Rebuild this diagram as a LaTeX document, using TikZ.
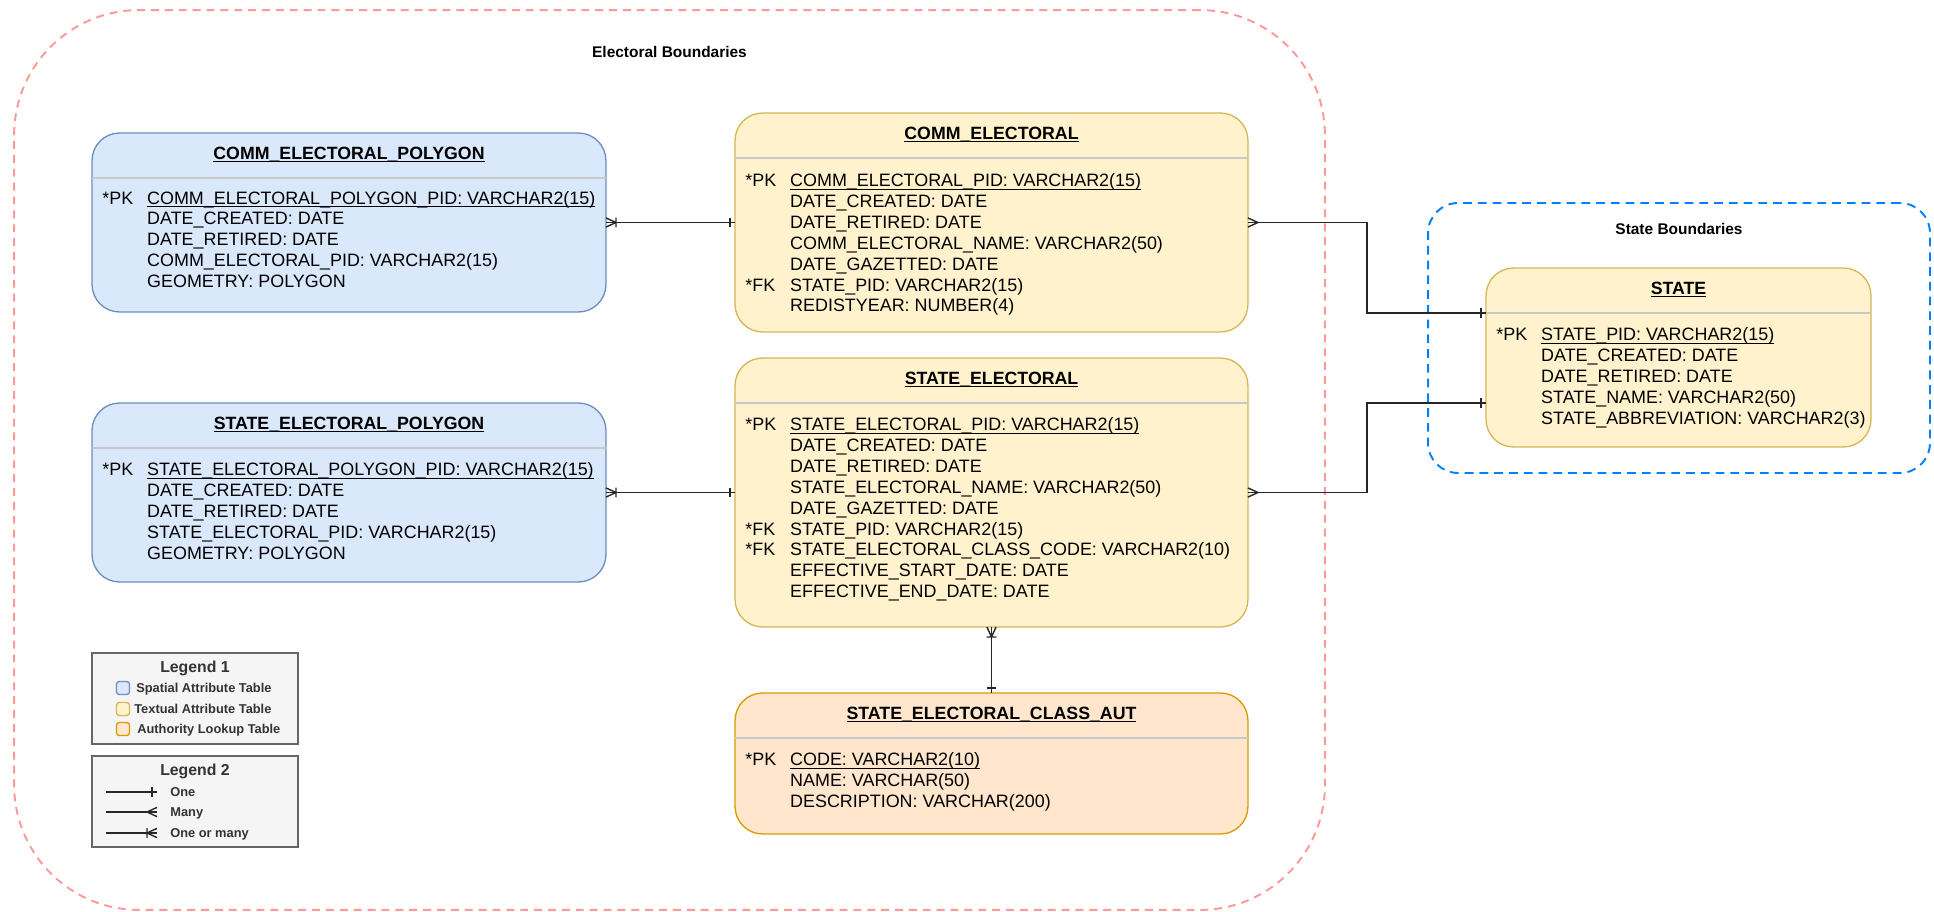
\documentclass[tikz,border=0pt]{standalone}
\usepackage{fontspec}
\setmainfont{Liberation Sans}
\usepackage{tikz}
\usetikzlibrary{arrows.meta}

\definecolor{spatialfill}{HTML}{DAE8FC}
\definecolor{spatialline}{HTML}{6C8EBF}
\definecolor{textualfill}{HTML}{FFF2CC}
\definecolor{textualline}{HTML}{D6B656}
\definecolor{lookupfill}{HTML}{FFE6CC}
\definecolor{lookupline}{HTML}{D79B00}
\definecolor{legendfill}{HTML}{F5F5F5}
\definecolor{legendline}{HTML}{666666}
\definecolor{redline}{HTML}{FF9999}
\definecolor{blueline}{HTML}{007FFF}
\definecolor{dividergray}{HTML}{C8C8C8}

% ER end marks
\pgfdeclarearrow{
  name = oneBar,
  setup code = {
    \pgfarrowssettipend{0pt}
    \pgfarrowssetlineend{0pt}
    \pgfarrowssetbackend{-3.5pt}
    \pgfarrowshullpoint{0pt}{3pt}
    \pgfarrowshullpoint{-3.5pt}{-3pt}
  },
  drawing code = {
    \pgfpathmoveto{\pgfqpoint{-2.8pt}{-2.8pt}}
    \pgfpathlineto{\pgfqpoint{-2.8pt}{2.8pt}}
    \pgfusepathqstroke
  }
}
\pgfdeclarearrow{
  name = crowFoot,
  setup code = {
    \pgfarrowssettipend{0pt}
    \pgfarrowssetlineend{0pt}
    \pgfarrowssetbackend{-5.7pt}
    \pgfarrowshullpoint{0pt}{2.6pt}
    \pgfarrowshullpoint{-5.7pt}{-2.6pt}
  },
  drawing code = {
    \pgfpathmoveto{\pgfqpoint{0pt}{2.6pt}}
    \pgfpathlineto{\pgfqpoint{-5.7pt}{0pt}}
    \pgfpathlineto{\pgfqpoint{0pt}{-2.6pt}}
    \pgfusepathqstroke
  }
}
\pgfdeclarearrow{
  name = crowBar,
  setup code = {
    \pgfarrowssettipend{0pt}
    \pgfarrowssetlineend{0pt}
    \pgfarrowssetbackend{-6pt}
    \pgfarrowshullpoint{0pt}{2.8pt}
    \pgfarrowshullpoint{-6pt}{-2.8pt}
  },
  drawing code = {
    \pgfpathmoveto{\pgfqpoint{0pt}{2.6pt}}
    \pgfpathlineto{\pgfqpoint{-5.7pt}{0pt}}
    \pgfpathlineto{\pgfqpoint{0pt}{-2.6pt}}
    \pgfpathmoveto{\pgfqpoint{-5.7pt}{-2.8pt}}
    \pgfpathlineto{\pgfqpoint{-5.7pt}{2.8pt}}
    \pgfusepathqstroke
  }
}

\tikzstyle{tbl} = [rectangle, rounded corners=0.55cm, line width=0.75pt, inner sep=0pt, outer sep=0pt]
\tikzstyle{spatial} = [tbl, fill=spatialfill, draw=spatialline]
\tikzstyle{textual} = [tbl, fill=textualfill, draw=textualline]
\tikzstyle{lookup} = [tbl, fill=lookupfill, draw=lookupline]
\tikzstyle{tbltitle} = [inner sep=0pt, text height=7.2pt, text depth=0pt, font=\fontsize{10.1}{12}\selectfont\bfseries]
\tikzstyle{fields} = [anchor=base west, inner sep=0pt, font=\fontsize{10.2}{11.9}\selectfont]
\tikzstyle{divider} = [line width=0.75pt, draw=dividergray]
\tikzstyle{rel} = [line width=0.8pt, draw=black!85]
\tikzstyle{boundary} = [rectangle, line width=1.1pt, dash pattern=on 4.5pt off 3.4pt, outer sep=0pt]
\tikzstyle{boundlabel} = [inner sep=0pt, text height=6.3pt, text depth=0pt, font=\fontsize{8.8}{10.5}\selectfont\bfseries]
\tikzstyle{legendbox} = [rectangle, fill=legendfill, draw=legendline, line width=0.75pt, minimum width=4.12cm, minimum height=1.82cm]
\tikzstyle{legendtitle} = [inner sep=0pt, text height=6.4pt, text depth=0pt, font=\fontsize{9}{11}\selectfont\bfseries, text=black!80]
\tikzstyle{legendtext} = [anchor=west, inner sep=0pt, text height=5.2pt, text depth=0pt, font=\fontsize{7.3}{9}\selectfont\bfseries, text=black!80]
\tikzstyle{keysq} = [rectangle, rounded corners=1.5pt, line width=0.75pt, minimum size=0.26cm, inner sep=0pt]

\begin{document}
\begin{tikzpicture}[x=0.02cm, y=-0.02cm]
\useasboundingbox (0,0) rectangle (1934,912);

% boundaries
\node (elect) [boundary, draw=redline, minimum width=26.22cm, minimum height=18cm, rounded corners=2.5cm] at (669.5,460) {};
\node (electlbl) [boundlabel] at (669.5,52) {Electoral Boundaries};
\node (statebnd) [boundary, draw=blueline, dash pattern=on 5pt off 3.4pt, minimum width=10.04cm, minimum height=5.4cm, rounded corners=0.6cm] at (1679,338) {};
\node (statelbl) [boundlabel] at (1679,229) {State Boundaries};

% COMM_ELECTORAL_POLYGON
\node (cep) [spatial, minimum width=10.28cm, minimum height=3.58cm] at (349,222.5) {};
\node (cep-t) [tbltitle] at ([yshift=-0.4cm]cep.north) {\underline{\smash{COMM\_ELECTORAL\_POLYGON}}};
\draw [divider] ([yshift=-0.9cm]cep.north west) -- ([yshift=-0.9cm]cep.north east);
\node (cep-f) [fields] at ([xshift=0.2cm, yshift=-1.42cm]cep.north west) {\begin{tabular}[t]{@{}p{25.5pt}@{}l@{}}
{*}PK & \underline{\smash{COMM\_ELECTORAL\_POLYGON\_PID: VARCHAR2(15)}}\\
 & DATE\_CREATED: DATE\\
 & DATE\_RETIRED: DATE\\
 & COMM\_ELECTORAL\_PID: VARCHAR2(15)\\
 & GEOMETRY: POLYGON
\end{tabular}};

% STATE_ELECTORAL_POLYGON
\node (sep) [spatial, minimum width=10.28cm, minimum height=3.58cm] at (349,492.5) {};
\node (sep-t) [tbltitle] at ([yshift=-0.4cm]sep.north) {\underline{\smash{STATE\_ELECTORAL\_POLYGON}}};
\draw [divider] ([yshift=-0.9cm]sep.north west) -- ([yshift=-0.9cm]sep.north east);
\node (sep-f) [fields] at ([xshift=0.2cm, yshift=-1.45cm]sep.north west) {\begin{tabular}[t]{@{}p{25.5pt}@{}l@{}}
{*}PK & \underline{\smash{STATE\_ELECTORAL\_POLYGON\_PID: VARCHAR2(15)}}\\
 & DATE\_CREATED: DATE\\
 & DATE\_RETIRED: DATE\\
 & STATE\_ELECTORAL\_PID: VARCHAR2(15)\\
 & GEOMETRY: POLYGON
\end{tabular}};

% COMM_ELECTORAL
\node (ce) [textual, minimum width=10.26cm, minimum height=4.38cm] at (991.5,222.5) {};
\node (ce-t) [tbltitle] at ([yshift=-0.4cm]ce.north) {\underline{\smash{COMM\_ELECTORAL}}};
\draw [divider] ([yshift=-0.9cm]ce.north west) -- ([yshift=-0.9cm]ce.north east);
\node (ce-f) [fields] at ([xshift=0.2cm, yshift=-1.47cm]ce.north west) {\begin{tabular}[t]{@{}p{25.5pt}@{}l@{}}
{*}PK & \underline{\smash{COMM\_ELECTORAL\_PID: VARCHAR2(15)}}\\
 & DATE\_CREATED: DATE\\
 & DATE\_RETIRED: DATE\\
 & COMM\_ELECTORAL\_NAME: VARCHAR2(50)\\
 & DATE\_GAZETTED: DATE\\
{*}FK & STATE\_PID: VARCHAR2(15)\\
 & REDISTYEAR: NUMBER(4)
\end{tabular}};

% STATE_ELECTORAL
\node (se) [textual, minimum width=10.26cm, minimum height=5.38cm] at (991.5,492.5) {};
\node (se-t) [tbltitle] at ([yshift=-0.4cm]se.north) {\underline{\smash{STATE\_ELECTORAL}}};
\draw [divider] ([yshift=-0.9cm]se.north west) -- ([yshift=-0.9cm]se.north east);
\node (se-f) [fields] at ([xshift=0.2cm, yshift=-1.45cm]se.north west) {\begin{tabular}[t]{@{}p{25.5pt}@{}l@{}}
{*}PK & \underline{\smash{STATE\_ELECTORAL\_PID: VARCHAR2(15)}}\\
 & DATE\_CREATED: DATE\\
 & DATE\_RETIRED: DATE\\
 & STATE\_ELECTORAL\_NAME: VARCHAR2(50)\\
 & DATE\_GAZETTED: DATE\\
{*}FK & STATE\_PID: VARCHAR2(15)\\
{*}FK & STATE\_ELECTORAL\_CLASS\_CODE: VARCHAR2(10)\\
 & EFFECTIVE\_START\_DATE: DATE\\
 & EFFECTIVE\_END\_DATE: DATE
\end{tabular}};

% STATE_ELECTORAL_CLASS_AUT
\node (aut) [lookup, minimum width=10.26cm, minimum height=2.82cm] at (991.5,763.5) {};
\node (aut-t) [tbltitle] at ([yshift=-0.4cm]aut.north) {\underline{\smash{STATE\_ELECTORAL\_CLASS\_AUT}}};
\draw [divider] ([yshift=-0.9cm]aut.north west) -- ([yshift=-0.9cm]aut.north east);
\node (aut-f) [fields] at ([xshift=0.2cm, yshift=-1.45cm]aut.north west) {\begin{tabular}[t]{@{}p{25.5pt}@{}l@{}}
{*}PK & \underline{\smash{CODE: VARCHAR2(10)}}\\
 & NAME: VARCHAR(50)\\
 & DESCRIPTION: VARCHAR(200)
\end{tabular}};

% STATE
\node (state) [textual, minimum width=7.7cm, minimum height=3.58cm] at (1678.5,357.5) {};
\node (state-t) [tbltitle] at ([yshift=-0.4cm]state.north) {\underline{\smash{STATE}}};
\draw [divider] ([yshift=-0.9cm]state.north west) -- ([yshift=-0.9cm]state.north east);
\node (state-f) [fields] at ([xshift=0.2cm, yshift=-1.45cm]state.north west) {\begin{tabular}[t]{@{}p{25.5pt}@{}l@{}}
{*}PK & \underline{\smash{STATE\_PID: VARCHAR2(15)}}\\
 & DATE\_CREATED: DATE\\
 & DATE\_RETIRED: DATE\\
 & STATE\_NAME: VARCHAR2(50)\\
 & STATE\_ABBREVIATION: VARCHAR2(3)
\end{tabular}};

% relationships
\draw [rel, arrows=crowBar-oneBar] (cep.east) -- (ce.west);
\draw [rel, arrows=crowBar-oneBar] (sep.east) -- (se.west);
\draw [rel, arrows=crowFoot-oneBar] (ce.east) -| (1367,313) -- (state.west |- 0,313);
\draw [rel, arrows=crowFoot-oneBar] (se.east) -| (1367,403) -- (state.west |- 0,403);
\draw [rel, arrows=crowBar-oneBar] (se.south) -- (aut.north);

% legend 1
\node (leg1) [legendbox] at (195,698.5) {};
\node (leg1-t) [legendtitle] at (195,667) {Legend 1};
\node (key1) [keysq, fill=spatialfill, draw=spatialline] at (123,688) {};
\node (key1-t) [legendtext] at (136,688) {Spatial Attribute Table};
\node (key2) [keysq, fill=textualfill, draw=textualline] at (123,709) {};
\node (key2-t) [legendtext] at (134,709) {Textual Attribute Table};
\node (key3) [keysq, fill=lookupfill, draw=lookupline] at (123,729) {};
\node (key3-t) [legendtext] at (137,729) {Authority Lookup Table};

% legend 2
\node (leg2) [legendbox] at (195,801.5) {};
\node (leg2-t) [legendtitle] at (195,770) {Legend 2};
\node (one) [legendtext] at (170,792) {One};
\node (many) [legendtext] at (170,812) {Many};
\node (onemany) [legendtext] at (170,833) {One or many};
\draw [rel, arrows=-oneBar] ([xshift=-1.28cm]one.west) -- ([xshift=-0.26cm]one.west);
\draw [rel, arrows=-crowFoot] ([xshift=-1.28cm]many.west) -- ([xshift=-0.26cm]many.west);
\draw [rel, arrows=-crowBar] ([xshift=-1.28cm]onemany.west) -- ([xshift=-0.26cm]onemany.west);
\end{tikzpicture}
\end{document}
